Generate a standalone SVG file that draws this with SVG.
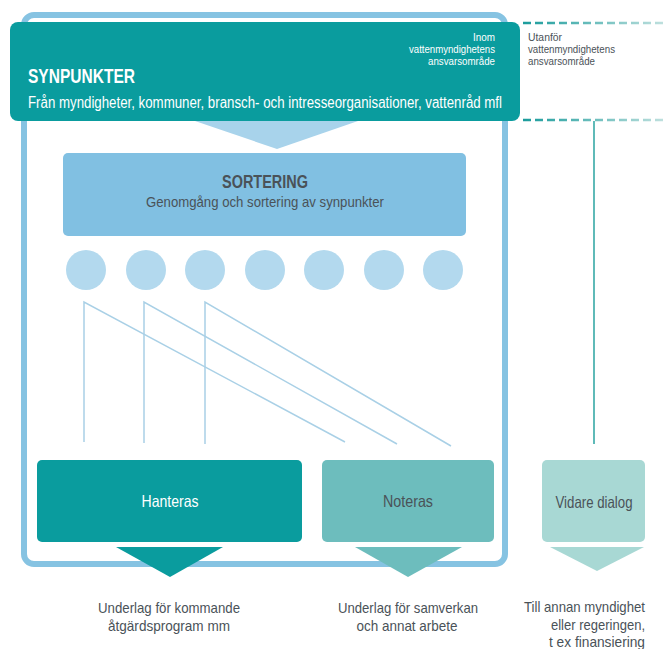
<svg xmlns="http://www.w3.org/2000/svg" width="664" height="649" viewBox="0 0 664 649">
<defs>
<style>
text{font-family:"Liberation Sans",Arial,sans-serif;}
.sm{font-size:10.5px;fill:#4a5258;}
.smw{font-size:10.5px;fill:#ffffff;}
.lbl{font-size:15px;fill:#4a5258;}
.box{font-size:16.5px;}
.ln{stroke:#a9d0e6;stroke-width:1.5;fill:none;}
.circ{fill:#b3d9ee;}
</style>
<linearGradient id="dg" gradientUnits="userSpaceOnUse" x1="523" y1="0" x2="664" y2="0">
<stop offset="0" stop-color="#1a9c9c"/>
<stop offset="1" stop-color="#bfe0de"/>
</linearGradient>
</defs>
<rect width="664" height="649" fill="#ffffff"/>
<g id="frame">
<rect x="24" y="15" width="481" height="549" rx="10" fill="none" stroke="#86c3e2" stroke-width="6"/>
</g>
<g id="connectors">
<polygon points="195,121 358,121 277,149" fill="#a8d3eb"/>
<polyline class="ln" points="84,442 84,302 345,442"/>
<polyline class="ln" points="144,443 144,302 397,444"/>
<polyline class="ln" points="205,444 205,302 451,446"/>
<line x1="594" y1="121" x2="594" y2="444" stroke="#2aa3a0" stroke-width="1.5"/>
<line x1="523" y1="23" x2="664" y2="23" stroke="url(#dg)" stroke-width="2.5" stroke-dasharray="8,4"/>
<line x1="523" y1="120" x2="664" y2="120" stroke="url(#dg)" stroke-width="2.5" stroke-dasharray="8,4"/>
<polygon points="116,547 223,547 170,577" fill="#0a9c9e"/>
<polygon points="355,547 462,547 408,577" fill="#6dbdbd"/>
<polygon points="550,547 644,547 597,571" fill="#a8d8d4"/>
</g>
<g id="synpunkter">
<rect x="10" y="22" width="510" height="99" rx="8" fill="#0a9c9e"/>
<text x="28" y="83" font-size="21" font-weight="bold" fill="#ffffff" textLength="107" lengthAdjust="spacingAndGlyphs">SYNPUNKTER</text>
<text x="28" y="108" font-size="16" fill="#ffffff" textLength="474" lengthAdjust="spacingAndGlyphs">Från myndigheter, kommuner, bransch- och intresseorganisationer, vattenråd mfl</text>
<text class="smw" x="495" y="41" text-anchor="end" textLength="22" lengthAdjust="spacingAndGlyphs">Inom</text>
<text class="smw" x="495" y="53" text-anchor="end" textLength="86" lengthAdjust="spacingAndGlyphs">vattenmyndighetens</text>
<text class="smw" x="495" y="65" text-anchor="end" textLength="67" lengthAdjust="spacingAndGlyphs">ansvarsområde</text>
</g>
<g id="utanfor">
<text class="sm" x="528" y="41" textLength="34" lengthAdjust="spacingAndGlyphs">Utanför</text>
<text class="sm" x="528" y="53" textLength="87" lengthAdjust="spacingAndGlyphs">vattenmyndighetens</text>
<text class="sm" x="528" y="65" textLength="67" lengthAdjust="spacingAndGlyphs">ansvarsområde</text>
</g>
<g id="sortering">
<rect x="63" y="153" width="403" height="83" rx="5" fill="#81c0e2"/>
<text x="265" y="188" font-size="18" font-weight="bold" fill="#4a5258" text-anchor="middle" textLength="86" lengthAdjust="spacingAndGlyphs">SORTERING</text>
<text x="265" y="207" font-size="15" fill="#4a5258" text-anchor="middle" textLength="238" lengthAdjust="spacingAndGlyphs">Genomgång och sortering av synpunkter</text>
</g>
<g id="kategorier">
<circle class="circ" cx="86" cy="270" r="20"/>
<circle class="circ" cx="146" cy="270" r="20"/>
<circle class="circ" cx="205" cy="270" r="20"/>
<circle class="circ" cx="265" cy="270" r="20"/>
<circle class="circ" cx="324" cy="270" r="20"/>
<circle class="circ" cx="384" cy="270" r="20"/>
<circle class="circ" cx="443" cy="270" r="20"/>
</g>
<g id="hanteras">
<rect x="37" y="460" width="265" height="82" rx="5" fill="#0a9c9e"/>
<text class="box" x="170" y="507" fill="#ffffff" text-anchor="middle" textLength="57" lengthAdjust="spacingAndGlyphs">Hanteras</text>
</g>
<g id="noteras">
<rect x="322" y="460" width="172" height="82" rx="5" fill="#6dbdbd"/>
<text class="box" x="408" y="507" fill="#4a5258" text-anchor="middle" textLength="50" lengthAdjust="spacingAndGlyphs">Noteras</text>
</g>
<g id="vidare">
<rect x="542" y="460" width="103" height="82" rx="5" fill="#a8d8d4"/>
<text class="box" x="594" y="508" fill="#4a5258" text-anchor="middle" textLength="77" lengthAdjust="spacingAndGlyphs">Vidare dialog</text>
</g>
<g id="utfall">
<text class="lbl" x="169" y="613" text-anchor="middle" textLength="142" lengthAdjust="spacingAndGlyphs">Underlag för kommande</text>
<text class="lbl" x="169" y="631" text-anchor="middle" textLength="122" lengthAdjust="spacingAndGlyphs">åtgärdsprogram mm</text>
<text class="lbl" x="408" y="613" text-anchor="middle" textLength="140" lengthAdjust="spacingAndGlyphs">Underlag för samverkan</text>
<text class="lbl" x="407" y="631" text-anchor="middle" textLength="101" lengthAdjust="spacingAndGlyphs">och annat arbete</text>
<text class="lbl" x="645" y="612" text-anchor="end" textLength="121" lengthAdjust="spacingAndGlyphs">Till annan myndighet</text>
<text class="lbl" x="645" y="630" text-anchor="end" textLength="94" lengthAdjust="spacingAndGlyphs">eller regeringen,</text>
<text class="lbl" x="645" y="647" text-anchor="end" textLength="96" lengthAdjust="spacingAndGlyphs">t ex finansiering</text>
</g>
</svg>
